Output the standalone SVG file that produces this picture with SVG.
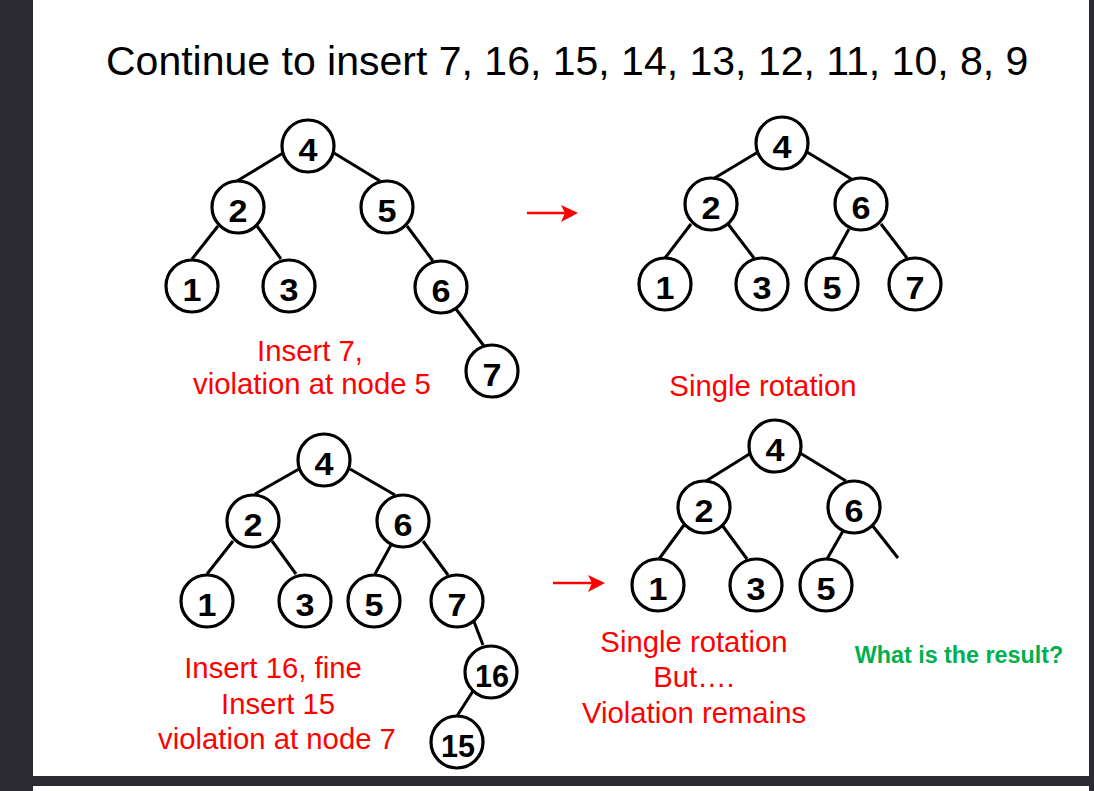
<svg xmlns="http://www.w3.org/2000/svg" width="1094" height="791" viewBox="0 0 1094 791">
  <style>
    .frame { fill: #2b2a30; }
    .edge { stroke: #000; stroke-width: 3; stroke-linecap: butt; fill: none; }
    .node circle { fill: #fff; stroke: #000; stroke-width: 3.2; }
    .node text { font-family: "Liberation Sans", Arial, sans-serif; font-weight: bold; font-size: 31px; fill: #000; text-anchor: middle; }
    .title { font-family: "Liberation Sans", Arial, sans-serif; font-size: 41px; fill: #000; }
    .note { font-family: "Liberation Sans", Arial, sans-serif; font-size: 29.3px; fill: #ff0000; text-anchor: middle; }
    .ask { font-family: "Liberation Sans", Arial, sans-serif; font-weight: bold; font-size: 23.3px; fill: #00b050; text-anchor: middle; }
    .arrow-shaft { stroke: #ff0000; stroke-width: 2.6; }
    .arrow-head { fill: #ff0000; }
  </style>

  <!-- page background and window frame -->
  <rect x="0" y="0" width="1094" height="791" fill="#fff"/>
  <rect class="frame" x="0" y="0" width="33" height="791"/>
  <rect class="frame" x="1089" y="0" width="5" height="791"/>
  <rect class="frame" x="33" y="776" width="1056" height="10"/>

  <text class="title" x="106" y="75">Continue to insert 7, 16, 15, 14, 13, 12, 11, 10, 8, 9</text>

  <!-- connectors -->
  <g id="connectors">
    <!-- tree A: after inserting 7 -->
    <line class="edge" x1="283" y1="153" x2="237" y2="181"/>
    <line class="edge" x1="334" y1="153" x2="380" y2="181"/>
    <line class="edge" x1="218" y1="226" x2="192" y2="259"/>
    <line class="edge" x1="257" y1="226" x2="281" y2="259"/>
    <line class="edge" x1="407" y1="226" x2="433" y2="261"/>
    <line class="edge" x1="456" y1="309" x2="484" y2="346"/>
    <!-- tree B: single rotation -->
    <line class="edge" x1="758" y1="152" x2="713" y2="179"/>
    <line class="edge" x1="807" y1="152" x2="853" y2="180"/>
    <line class="edge" x1="691" y1="224" x2="665" y2="258"/>
    <line class="edge" x1="728" y1="224" x2="754" y2="258"/>
    <line class="edge" x1="849" y1="229" x2="833" y2="258"/>
    <line class="edge" x1="881" y1="224" x2="907" y2="258"/>
    <!-- tree C: inserting 16 and 15 -->
    <line class="edge" x1="299" y1="469" x2="255" y2="494"/>
    <line class="edge" x1="350" y1="469" x2="395" y2="495"/>
    <line class="edge" x1="233" y1="541" x2="207" y2="574"/>
    <line class="edge" x1="272" y1="541" x2="296" y2="574"/>
    <line class="edge" x1="391" y1="545" x2="375" y2="574"/>
    <line class="edge" x1="423" y1="541" x2="448" y2="575"/>
    <line class="edge" x1="473" y1="619" x2="483" y2="645"/>
    <line class="edge" x1="473" y1="691" x2="457" y2="716"/>
    <!-- tree D: rotation with dangling right child of 6 -->
    <line class="edge" x1="751" y1="453" x2="706" y2="481"/>
    <line class="edge" x1="800" y1="453" x2="846" y2="481"/>
    <line class="edge" x1="684" y1="525" x2="659" y2="559"/>
    <line class="edge" x1="722" y1="525" x2="747" y2="559"/>
    <line class="edge" x1="843" y1="531" x2="827" y2="559"/>
    <line class="edge" x1="872" y1="525" x2="898" y2="558"/>
    <!-- red transition arrows -->
    <line class="arrow-shaft" x1="527" y1="213" x2="566" y2="213"/>
    <path class="arrow-head" d="M578,213 L561,205 L565,213 L561,222 Z"/>
    <line class="arrow-shaft" x1="553" y1="583" x2="592" y2="583"/>
    <path class="arrow-head" d="M605,583 L588,575 L592,583 L588,592 Z"/>
  </g>

  <!-- tree A -->
  <g id="a4" class="node"><circle cx="308" cy="146" r="26"/><text x="308" y="161" textLength="19" lengthAdjust="spacingAndGlyphs">4</text></g>
  <g id="a2" class="node"><circle cx="238" cy="207" r="26"/><text x="238" y="222" textLength="19" lengthAdjust="spacingAndGlyphs">2</text></g>
  <g id="a5" class="node"><circle cx="387" cy="207" r="26"/><text x="387" y="222" textLength="19" lengthAdjust="spacingAndGlyphs">5</text></g>
  <g id="a1" class="node"><circle cx="192" cy="286" r="26"/><text x="192" y="301" textLength="19" lengthAdjust="spacingAndGlyphs">1</text></g>
  <g id="a3" class="node"><circle cx="289" cy="286" r="26"/><text x="289" y="301" textLength="19" lengthAdjust="spacingAndGlyphs">3</text></g>
  <g id="a6" class="node"><circle cx="441" cy="287" r="26"/><text x="441" y="302" textLength="19" lengthAdjust="spacingAndGlyphs">6</text></g>
  <g id="a7" class="node"><circle cx="492" cy="371" r="26"/><text x="492" y="386" textLength="19" lengthAdjust="spacingAndGlyphs">7</text></g>

  <!-- tree B -->
  <g id="b4" class="node"><circle cx="782" cy="143" r="26"/><text x="782" y="158" textLength="19" lengthAdjust="spacingAndGlyphs">4</text></g>
  <g id="b2" class="node"><circle cx="711" cy="204" r="26"/><text x="711" y="219" textLength="19" lengthAdjust="spacingAndGlyphs">2</text></g>
  <g id="b6" class="node"><circle cx="861" cy="204" r="26"/><text x="861" y="219" textLength="19" lengthAdjust="spacingAndGlyphs">6</text></g>
  <g id="b1" class="node"><circle cx="665" cy="284" r="26"/><text x="665" y="299" textLength="19" lengthAdjust="spacingAndGlyphs">1</text></g>
  <g id="b3" class="node"><circle cx="762" cy="284" r="26"/><text x="762" y="299" textLength="19" lengthAdjust="spacingAndGlyphs">3</text></g>
  <g id="b5" class="node"><circle cx="832" cy="284" r="26"/><text x="832" y="299" textLength="19" lengthAdjust="spacingAndGlyphs">5</text></g>
  <g id="b7" class="node"><circle cx="915" cy="284" r="26"/><text x="915" y="299" textLength="19" lengthAdjust="spacingAndGlyphs">7</text></g>

  <!-- tree C -->
  <g id="c4" class="node"><circle cx="324" cy="460" r="26"/><text x="324" y="475" textLength="19" lengthAdjust="spacingAndGlyphs">4</text></g>
  <g id="c2" class="node"><circle cx="253" cy="521" r="26"/><text x="253" y="536" textLength="19" lengthAdjust="spacingAndGlyphs">2</text></g>
  <g id="c6" class="node"><circle cx="403" cy="521" r="26"/><text x="403" y="536" textLength="19" lengthAdjust="spacingAndGlyphs">6</text></g>
  <g id="c1" class="node"><circle cx="207" cy="601" r="26"/><text x="207" y="616" textLength="19" lengthAdjust="spacingAndGlyphs">1</text></g>
  <g id="c3" class="node"><circle cx="305" cy="601" r="26"/><text x="305" y="616" textLength="19" lengthAdjust="spacingAndGlyphs">3</text></g>
  <g id="c5" class="node"><circle cx="374" cy="601" r="26"/><text x="374" y="616" textLength="19" lengthAdjust="spacingAndGlyphs">5</text></g>
  <g id="c7" class="node"><circle cx="457" cy="601" r="26"/><text x="457" y="616" textLength="19" lengthAdjust="spacingAndGlyphs">7</text></g>
  <g id="c16" class="node"><circle cx="491" cy="672" r="26"/><text x="492" y="687" textLength="34" lengthAdjust="spacingAndGlyphs">16</text></g>
  <g id="c15" class="node"><circle cx="457" cy="742" r="26"/><text x="458" y="757" textLength="34" lengthAdjust="spacingAndGlyphs">15</text></g>

  <!-- tree D -->
  <g id="d4" class="node"><circle cx="775" cy="446" r="26"/><text x="775" y="461" textLength="19" lengthAdjust="spacingAndGlyphs">4</text></g>
  <g id="d2" class="node"><circle cx="704" cy="507" r="26"/><text x="704" y="522" textLength="19" lengthAdjust="spacingAndGlyphs">2</text></g>
  <g id="d6" class="node"><circle cx="854" cy="507" r="26"/><text x="854" y="522" textLength="19" lengthAdjust="spacingAndGlyphs">6</text></g>
  <g id="d1" class="node"><circle cx="658" cy="585" r="26"/><text x="658" y="600" textLength="19" lengthAdjust="spacingAndGlyphs">1</text></g>
  <g id="d3" class="node"><circle cx="756" cy="585" r="26"/><text x="756" y="600" textLength="19" lengthAdjust="spacingAndGlyphs">3</text></g>
  <g id="d5" class="node"><circle cx="826" cy="585" r="26"/><text x="826" y="600" textLength="19" lengthAdjust="spacingAndGlyphs">5</text></g>

  <!-- annotations -->
  <text class="note" x="310" y="361">Insert 7,</text>
  <text class="note" x="312" y="394">violation at node 5</text>
  <text class="note" x="763" y="396">Single rotation</text>
  <text class="note" x="273" y="678">Insert 16, fine</text>
  <text class="note" x="278" y="714">Insert 15</text>
  <text class="note" x="277" y="749">violation at node 7</text>
  <text class="note" x="694" y="652">Single rotation</text>
  <text class="note" x="694" y="687">But….</text>
  <text class="note" x="694" y="723">Violation remains</text>
  <text class="ask" x="959" y="663">What is the result?</text>
</svg>
